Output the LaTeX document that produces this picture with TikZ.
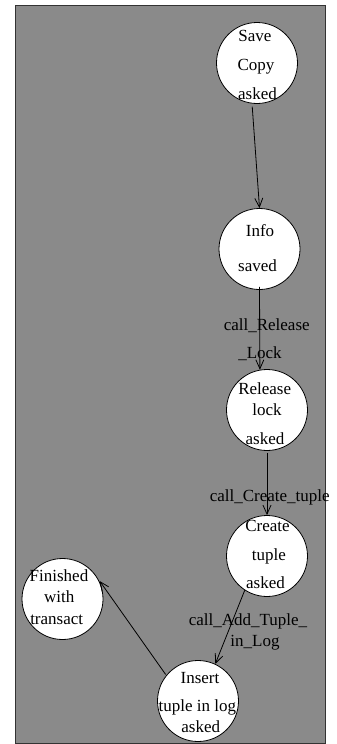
\documentclass[tikz,border=0pt]{standalone}
\usepackage{fontspec}
\setmainfont{Liberation Serif}
\usetikzlibrary{arrows.meta}
\definecolor{bggray}{RGB}{138,138,138}
\tikzset{
  state/.style={circle,draw=black,fill=white,line width=0.8pt,minimum size=81pt,inner sep=0pt},
  txt/.style={anchor=base,inner sep=0pt,font=\fontsize{17}{20}\selectfont,text=black},
  conn/.style={draw=black,line width=0.8pt,-{Straight Barb[length=9pt,width=8pt]}}
}
\begin{document}
\begin{tikzpicture}[x=1pt,y=-1pt]
\useasboundingbox (0,0) rectangle (337,744);
\draw[fill=bggray,draw=black!80,line width=0.8pt] (15,5) rectangle (325,743);
% states
\node[state] (save) at (257,63) {};
\node[state] (info) at (259.5,249) {};
\node[state] (rel) at (267,410) {};
\node[state] (cre) at (267,556) {};
\node[state] (fin) at (62.5,599) {};
\node[state] (ins) at (198,701) {};
% state texts
\node[txt] (t1a) at (255,41.5) {Save};
\node[txt] (t1b) at (256,70.5) {Copy};
\node[txt] (t1c) at (257.5,99) {asked};
\node[txt] (t2a) at (260,236) {Info};
\node[txt] (t2b) at (257.5,271.5) {saved};
\node[txt] (t3a) at (264.7,394) {Release};
\node[txt] (t3b) at (267,415.7) {lock};
\node[txt] (t3c) at (265,444) {asked};
\node[txt] (t4a) at (267.5,531.7) {Create};
\node[txt] (t4b) at (268.8,560) {tuple};
\node[txt] (t4c) at (265.5,588) {asked};
\node[txt] (t5a) at (59,581.7) {Finished};
\node[txt] (t5b) at (59.3,602.7) {with};
\node[txt] (t5c) at (56.7,624) {transact};
\node[txt] (t6a) at (200,683) {Insert};
\node[txt] (t6b) at (197.3,711.7) {tuple in log};
\node[txt] (t6c) at (200.8,732.7) {asked};
% connectors
\draw[conn,shorten <=3pt] (save.263) -- (info.90);
\draw[conn,shorten <=-3pt] (info.270) -- (rel.100);
\draw[conn,shorten <=2pt] (rel.270) -- (cre.90);
\draw[conn] (cre.237) -- (ins.65);
\draw[conn,shorten <=1pt,shorten >=3pt] (ins.141) -- (fin.30);
% labels
\node[txt] (l1a) at (266.7,330) {call\_Release};
\node[txt] (l1b) at (260,358) {\_Lock};
\node[txt] (l2) at (269.7,501.7) {call\_Create\_tuple};
\node[txt] (l3a) at (248,625) {call\_Add\_Tuple\_};
\node[txt] (l3b) at (255,646.7) {in\_Log};
\end{tikzpicture}
\end{document}
